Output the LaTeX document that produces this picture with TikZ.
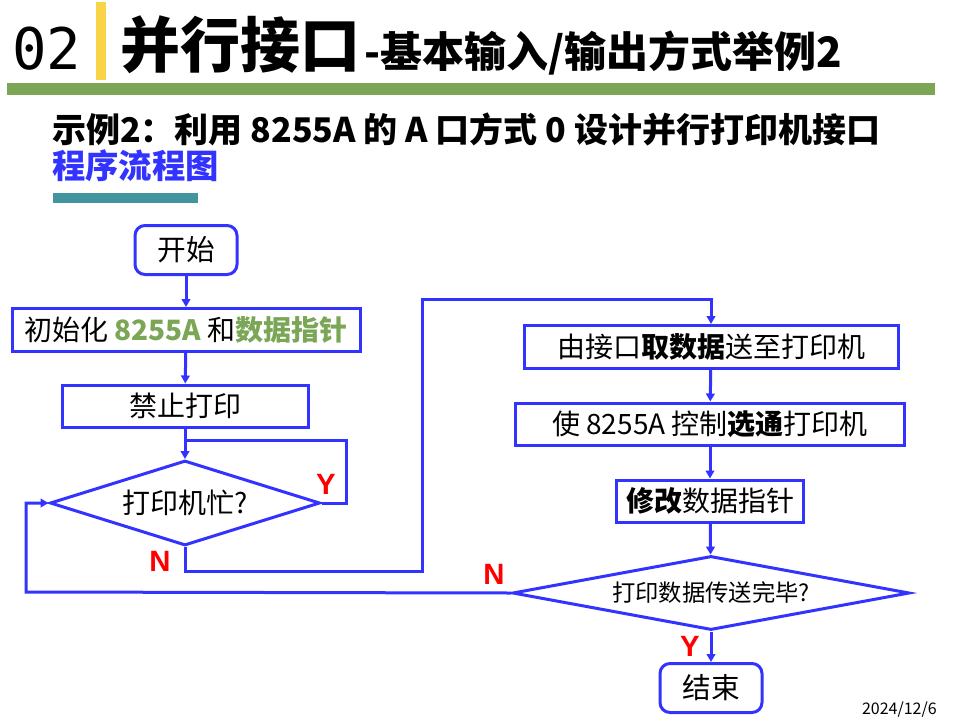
\documentclass[tikz,border=0pt]{standalone}
\usepackage{fontspec}
\setmainfont{Noto Sans CJK SC}
\newfontfamily\heavyfont{Noto Sans CJK SC Black}
\newfontfamily\labelfont{Liberation Sans}
\newfontfamily\monofont{DejaVu Sans Mono}
\usetikzlibrary{shapes.geometric,arrows.meta}
\definecolor{lineblue}{RGB}{51,51,255}
\definecolor{ptgreen}{RGB}{122,166,86}
\definecolor{ptyellow}{RGB}{250,212,72}
\definecolor{ptteal}{RGB}{66,149,158}
\begin{document}
\begin{tikzpicture}[x=0.75pt,y=-0.75pt,
	every node/.style={inner sep=0pt},
	box/.style={draw=lineblue,line width=2.25pt,fill=white,font=\fontsize{21}{25}\selectfont},
	term/.style={box,rounded corners=7.5pt,minimum width=76.5pt,minimum height=36.75pt,font=\fontsize{21.5}{25}\selectfont},
	test/.style={box,diamond},
	yn/.style={text=red,font=\labelfont\bfseries\fontsize{22}{26}\selectfont},
	flow/.style={draw=lineblue,line width=2.25pt,-{Triangle[length=6pt,width=6.5pt]}},
	link/.style={draw=lineblue,line width=2.25pt}]
\useasboundingbox (0,0) rectangle (957,718);
\fill[ptyellow] (96,2) rectangle (106,80);
\fill[ptgreen] (7,83) rectangle (935,95);
\fill[ptteal] (53,193) rectangle (198,203);
\node[anchor=west,font=\monofont\fontsize{43}{50}\selectfont] (num) at (12,49) {02};
\node[anchor=west,font=\heavyfont\fontsize{45}{54}\selectfont] (title) at (120,45) {并行接口};
\node[anchor=west,font=\bfseries\fontsize{31.5}{36}\selectfont] (subtitle) at (364,53) {-基本输入/输出方式举例2};
\node[anchor=west,font=\bfseries\fontsize{25.5}{30}\selectfont] (task) at (52,129) {示例2：利用 8255A 的 A 口方式 0 设计并行打印机接口};
\node[anchor=west,text=lineblue,font=\bfseries\fontsize{25}{30}\selectfont] (chart) at (52,166) {程序流程图};
\node[anchor=east,font=\fontsize{12}{14}\selectfont] (date) at (937,710) {2024/12/6};

\node[term] (start) at (186,250) {开始};
\node[box,minimum width=261pt,minimum height=32.25pt] (init) at (186,330) {初始化 \textcolor{ptgreen}{\bfseries 8255A} 和\textcolor{ptgreen}{\bfseries 数据指针}};
\node[box,minimum width=184.5pt,minimum height=31.5pt] (forbid) at (185,406) {禁止打印};
\node[test,aspect=3.18,minimum width=202.5pt,minimum height=63.75pt] (busy) at (185,503) {打印机忙?};
\node[box,minimum width=280.5pt,minimum height=32.25pt] (fetch) at (711,347) {由接口\textbf{取数据}送至打印机};
\node[box,minimum width=291.75pt,minimum height=31.5pt] (strobe) at (710,424) {使 8255A 控制\textbf{选通}打印机};
\node[box,minimum width=140.25pt,minimum height=31.5pt] (modify) at (710,501) {\textbf{修改}数据指针};
\node[test,aspect=5.36,minimum width=297.75pt,minimum height=55.5pt,font=\fontsize{17.5}{21}\selectfont] (done) at (711,593) {打印数据传送完毕?};
\node[term] (stop) at (711,688) {结束};

\coordinate (yloop) at (346,440);
\coordinate (yjoin) at (185,440);
\coordinate (nbusy) at (185,571);
\coordinate (nrise) at (422,299);
\coordinate (ndone) at (26,592);

\draw[flow] (start) -- (init);
\draw[flow] (init) -- (forbid);
\draw[flow] (forbid) -- (busy);
\draw[link] (busy.east) -| (yloop) -- (yjoin);
\draw[flow] (busy.south) -- (nbusy) -| (nrise) -| (fetch.north);
\draw[flow] (fetch) -- (strobe);
\draw[flow] (strobe) -- (modify);
\draw[flow] (modify) -- (done);
\draw[flow] (done.west) -- (ndone) |- (busy.west);
\draw[flow] (done) -- (stop);

\node[yn] (ybusy) at (326,484) {Y};
\node[yn] (nbusylab) at (160,561) {N};
\node[yn] (ndonelab) at (494,574) {N};
\node[yn] (ydonelab) at (690,646) {Y};
\end{tikzpicture}
\end{document}
